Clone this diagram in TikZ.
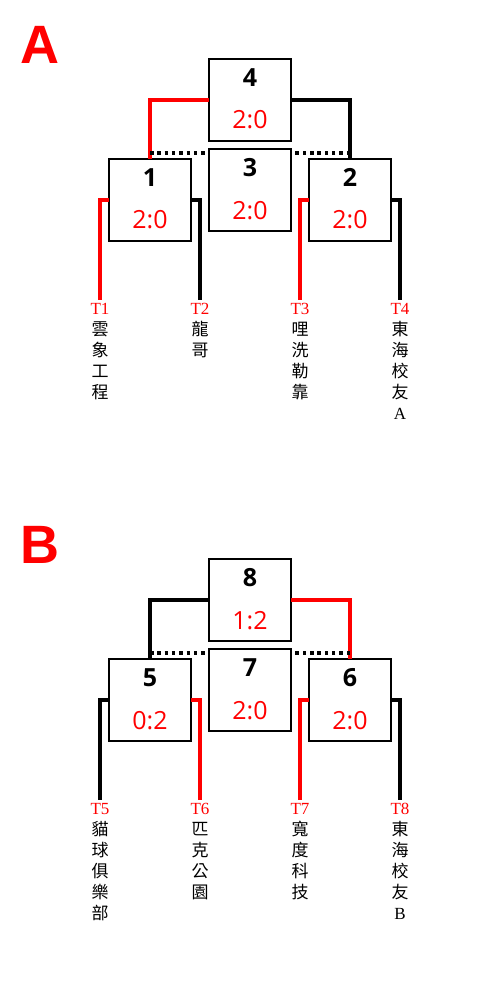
\documentclass[tikz,border=0pt]{standalone}
\usepackage{fontspec}
\setmainfont{Liberation Serif}
\newfontfamily\boxfont{Open Sans}
\newfontfamily\cjkfont{Noto Sans CJK TC}
\newfontfamily\headfont{Liberation Sans}
\usetikzlibrary{calc}
\definecolor{wred}{RGB}{255,0,0}
\newcommand\teamid[1]{{\rmfamily\color{wred}#1}}
\newcommand\latin[1]{{\rmfamily #1}}
\newcommand\matchbox[5]{%
  \node[matchframe] (#1) at (#2,#3) {};
  \node[numtext] (#1n) at ($(#1.center)+(0,-13.3)$) {#4};
  \node[scoretext] (#1s) at ($(#1.center)+(0,29)$) {#5};
}
\begin{document}
\begin{tikzpicture}[x=1pt,y=-1pt,
  matchframe/.style={draw, line width=1.6pt, minimum width=82.5pt, minimum height=81.7pt, inner sep=0pt, outer sep=0pt},
  numtext/.style={anchor=base, inner sep=0pt, font=\boxfont\bfseries\fontsize{25}{30}\selectfont},
  scoretext/.style={anchor=base, inner sep=0pt, text=wred, font=\boxfont\fontsize{25}{30}\selectfont},
  win/.style={draw=wred, line width=3.5pt},
  lose/.style={draw=black, line width=3.5pt},
  dots/.style={draw=black, line width=3.5pt, dash pattern=on 3.5pt off 3.8pt},
  team/.style={anchor=north, inner xsep=0pt, inner ysep=3pt, align=center, font=\cjkfont\fontsize{17}{21}\selectfont},
  head/.style={anchor=base, inner sep=0pt, text=wred, font=\headfont\bfseries\fontsize{54}{60}\selectfont}
]
\useasboundingbox (0,0) rectangle (500,1000);

% ---------- A ----------
\node[head] (hA) at (40,63.5) {A};
\matchbox{m4}{250}{100}{4}{2:0}
\matchbox{m3}{250}{190}{3}{2:0}
\matchbox{m1}{150}{200}{1}{2:0}
\matchbox{m2}{350}{200}{2}{2:0}

\node[team] (t1) at (100,300) {\teamid{T1}\\雲\\象\\工\\程};
\node[team] (t2) at (200,300) {\teamid{T2}\\龍\\哥};
\node[team] (t3) at (300,300) {\teamid{T3}\\哩\\洗\\勒\\靠};
\node[team] (t4) at (400,300) {\teamid{T4}\\東\\海\\校\\友\\\latin{A}};

\draw[win] (m4.west) -| (m1.north);
\draw[lose] (m4.east) -| (m2.north);
\coordinate (d1) at ($(m1.north)+(0,-6)$);
\coordinate (d2) at ($(m2.north)+(0,-6)$);
\draw[dots] (d1) -- (d1 -| m3.west);
\draw[dots] (d2) -- (d2 -| m3.east);
\draw[win] (m1.west) -| (t1.north);
\draw[lose] (m1.east) -| (t2.north);
\draw[win] (m2.west) -| (t3.north);
\draw[lose] (m2.east) -| (t4.north);

% ---------- B ----------
\node[head] (hB) at (40,563.5) {B};
\matchbox{m8}{250}{600}{8}{1:2}
\matchbox{m7}{250}{690}{7}{2:0}
\matchbox{m5}{150}{700}{5}{0:2}
\matchbox{m6}{350}{700}{6}{2:0}

\node[team] (t5) at (100,800) {\teamid{T5}\\貓\\球\\俱\\樂\\部};
\node[team] (t6) at (200,800) {\teamid{T6}\\匹\\克\\公\\園};
\node[team] (t7) at (300,800) {\teamid{T7}\\寬\\度\\科\\技};
\node[team] (t8) at (400,800) {\teamid{T8}\\東\\海\\校\\友\\\latin{B}};

\draw[lose] (m8.west) -| (m5.north);
\draw[win] (m8.east) -| (m6.north);
\coordinate (d5) at ($(m5.north)+(0,-6)$);
\coordinate (d6) at ($(m6.north)+(0,-6)$);
\draw[dots] (d5) -- (d5 -| m7.west);
\draw[dots] (d6) -- (d6 -| m7.east);
\draw[lose] (m5.west) -| (t5.north);
\draw[win] (m5.east) -| (t6.north);
\draw[win] (m6.west) -| (t7.north);
\draw[lose] (m6.east) -| (t8.north);
\end{tikzpicture}
\end{document}
